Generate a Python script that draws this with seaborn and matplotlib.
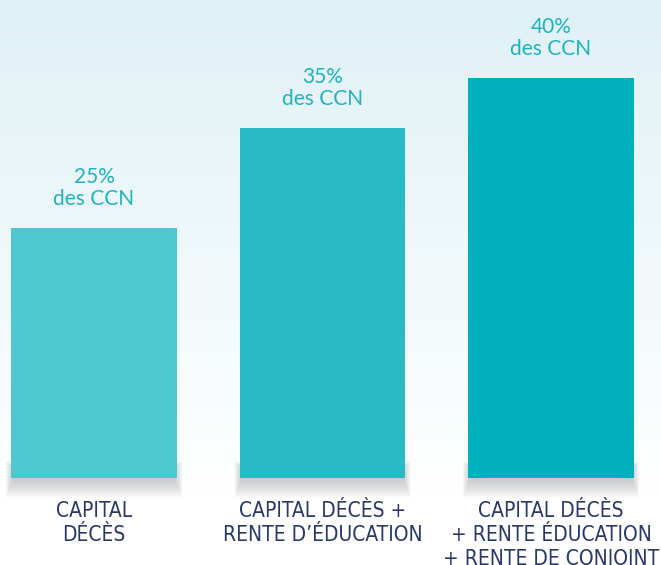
import matplotlib
matplotlib.use("Agg")
import matplotlib.pyplot as plt
from matplotlib.patches import Rectangle
import seaborn as sns
import numpy as np

# données
categories = ["CAPITAL\nDÉCÈS", "CAPITAL DÉCÈS +\nRENTE D’ÉDUCATION",
              "CAPITAL DÉCÈS\n+ RENTE ÉDUCATION\n+ RENTE DE CONJOINT"]
parts = [25, 35, 40]
labels = ["25%\ndes CCN", "35%\ndes CCN", "40%\ndes CCN"]
colors = ["#4ec8d0", "#29bbc5", "#00b1bd"]

sns.set_theme(style="white")
plt.rcParams["font.family"] = ["Lato", "DejaVu Sans"]

fig = plt.figure(figsize=(6.61, 5.65), dpi=100)
ax = fig.add_axes([0, 0, 1, 1])

# fond dégradé
grad = np.linspace(0, 1, 256).reshape(-1, 1)
top = np.array([0.875, 0.945, 0.962])
bot = np.array([1.0, 1.0, 1.0])
img = top + (bot - top) * np.clip(grad * 1.15, 0, 1)[..., None]
ax.imshow(img.reshape(256, 1, 3), extent=[-0.411, 2.481, -8.7, 47.8],
          aspect="auto", zorder=0)

sns.barplot(x=list(range(len(parts))), y=parts, hue=list(range(len(parts))),
            palette=colors, legend=False, width=0.725, saturation=1,
            linewidth=0, ax=ax, zorder=3)

# ombre douce sous les barres
bars = list(ax.patches[:len(parts)])
for p in bars:
    x0, w = p.get_x(), p.get_width()
    for k in range(14):
        dx = 0.003 * k
        dy = 0.17 * k
        ax.add_patch(Rectangle((x0 + 0.015 - dx, 0.2 - dy), w - 0.03 + 2 * dx,
                               0.6 + 1.4 * dy, facecolor="#4a585e",
                               edgecolor="none", alpha=0.026, zorder=2))

for p, lab, cat in zip(bars, labels, categories):
    cx = p.get_x() + p.get_width() / 2
    ax.text(cx, p.get_height() + 1.9, lab, ha="center", va="bottom",
            color="#1fb3c0", fontsize=15, linespacing=1.15, zorder=4)
    ax.text(cx, -2.3, cat, ha="center", va="top", color="#28386a",
            fontsize=15, linespacing=1.24, zorder=4,
            family=["DejaVu Sans"], fontstretch="condensed")

ax.set_xlim(-0.411, 2.481)
ax.set_ylim(-8.7, 47.8)
ax.axis("off")

fig.savefig("out.png", dpi=100)
